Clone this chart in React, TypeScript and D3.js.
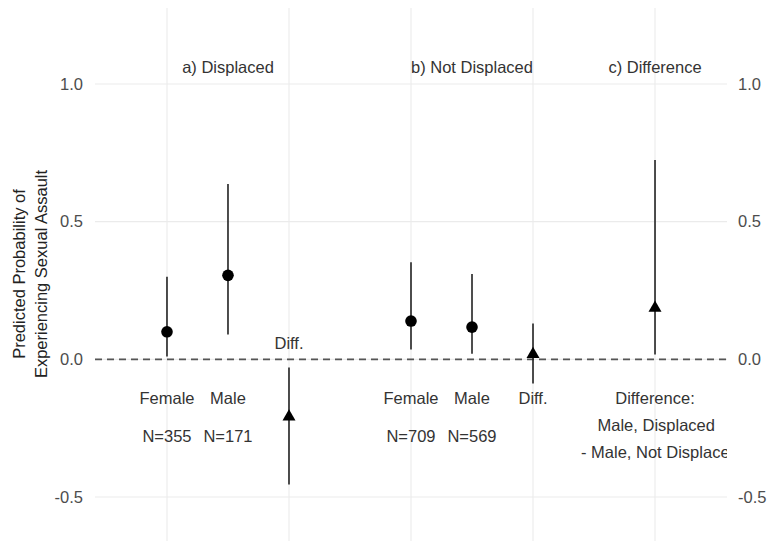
import { scaleLinear } from 'd3'

const width = 771
const height = 541

const panel = { left: 95, right: 727, top: 8, bottom: 541 }

// estimates with 95% intervals, x = position on the continuous axis
const xPos = [0, 1, 2, 4, 5, 6, 8]
const estimates = [0.1, 0.305, -0.205, 0.139, 0.117, 0.022, 0.19]
const lower = [0.01, 0.09, -0.455, 0.036, 0.02, -0.088, 0.018]
const upper = [0.3, 0.637, -0.03, 0.353, 0.31, 0.13, 0.724]
const shapes = ['circle', 'circle', 'triangle', 'circle', 'circle', 'triangle', 'triangle']

const yTicks = [-0.5, 0, 0.5, 1]
const xBreaks = [0, 2, 4, 6, 8]

// annotate() style labels: [x, y, text]
const titles: [number, number, string][] = [
  [1, 1.062, 'a) Displaced'],
  [5, 1.062, 'b) Not Displaced'],
  [8, 1.062, 'c) Difference'],
]
const groupLabels: [number, number, string][] = [
  [0, -0.14, 'Female'],
  [1, -0.14, 'Male'],
  [2, 0.06, 'Diff.'],
  [4, -0.14, 'Female'],
  [5, -0.14, 'Male'],
  [6, -0.14, 'Diff.'],
  [0, -0.28, 'N=355'],
  [1, -0.28, 'N=171'],
  [4, -0.28, 'N=709'],
  [5, -0.28, 'N=569'],
  [8, -0.14, 'Difference:'],
  [8.02, -0.24, 'Male, Displaced'],
  [8.08, -0.338, '- Male, Not Displaced'],
]

const font = '"Liberation Sans", Arial, Helvetica, sans-serif'

const App = () => {
  const xScale = scaleLinear().domain([-1.18, 9.18]).range([panel.left, panel.right])
  const yScale = scaleLinear().domain([-0.5, 1]).range([497, 84])

  const tri = (cx: number, cy: number, s: number) =>
    `M${cx},${cy - s * 0.65} L${cx + s * 0.65},${cy + s * 0.47} L${cx - s * 0.65},${cy + s * 0.47} Z`

  return (
    <svg
      width={width}
      height={height}
      style={{ position: 'absolute', left: 0, top: 0, background: '#fff' }}
      fontFamily={font}
    >
      <defs>
        <clipPath id="panel-clip">
          <rect
            x={panel.left}
            y={panel.top}
            width={panel.right - panel.left}
            height={panel.bottom - panel.top}
          />
        </clipPath>
      </defs>

      {/* grid */}
      {yTicks.map((t) => (
        <line
          key={'gy' + t}
          x1={panel.left}
          x2={panel.right}
          y1={yScale(t)}
          y2={yScale(t)}
          stroke="#ebebeb"
          strokeWidth={1.1}
        />
      ))}
      {xBreaks.map((b) => (
        <line
          key={'gx' + b}
          x1={xScale(b)}
          x2={xScale(b)}
          y1={panel.top}
          y2={panel.bottom}
          stroke="#ebebeb"
          strokeWidth={1.1}
        />
      ))}

      {/* zero reference */}
      <line
        x1={panel.left}
        x2={panel.right}
        y1={yScale(0)}
        y2={yScale(0)}
        stroke="#555"
        strokeWidth={1.6}
        strokeDasharray="7 5"
      />

      {/* intervals and estimates */}
      {xPos.map((x, i) => (
        <g key={'pt' + i}>
          <line
            x1={xScale(x)}
            x2={xScale(x)}
            y1={yScale(lower[i])}
            y2={yScale(upper[i])}
            stroke="#222"
            strokeWidth={1.6}
          />
          {shapes[i] === 'circle' ? (
            <circle cx={xScale(x)} cy={yScale(estimates[i])} r={5.8} fill="#000" />
          ) : (
            <path d={tri(xScale(x), yScale(estimates[i]), 10)} fill="#000" />
          )}
        </g>
      ))}

      {/* text annotations */}
      <g clipPath="url(#panel-clip)" fontSize={16.5} fill="#333" textAnchor="middle">
        {titles.concat(groupLabels).map(([x, y, s], i) => (
          <text key={'lab' + i} x={xScale(x)} y={yScale(y)} dy="0.35em">
            {s}
          </text>
        ))}
      </g>

      {/* y axes both sides */}
      <g fontSize={16.5} fill="#4d4d4d">
        {yTicks.map((t) => (
          <text key={'yl' + t} x={83} y={yScale(t)} dy="0.35em" textAnchor="end">
            {t.toFixed(1)}
          </text>
        ))}
        {yTicks.map((t) => (
          <text key={'yr' + t} x={738} y={yScale(t)} dy="0.35em" textAnchor="start">
            {t.toFixed(1)}
          </text>
        ))}
      </g>

      <g transform="translate(30,274) rotate(-90)" fontSize={16.5} fill="#222" textAnchor="middle">
        <text y={-11} dy="0.35em">Predicted Probability of</text>
        <text y={11} dy="0.35em">Experiencing Sexual Assault</text>
      </g>
    </svg>
  )
}

export default App
